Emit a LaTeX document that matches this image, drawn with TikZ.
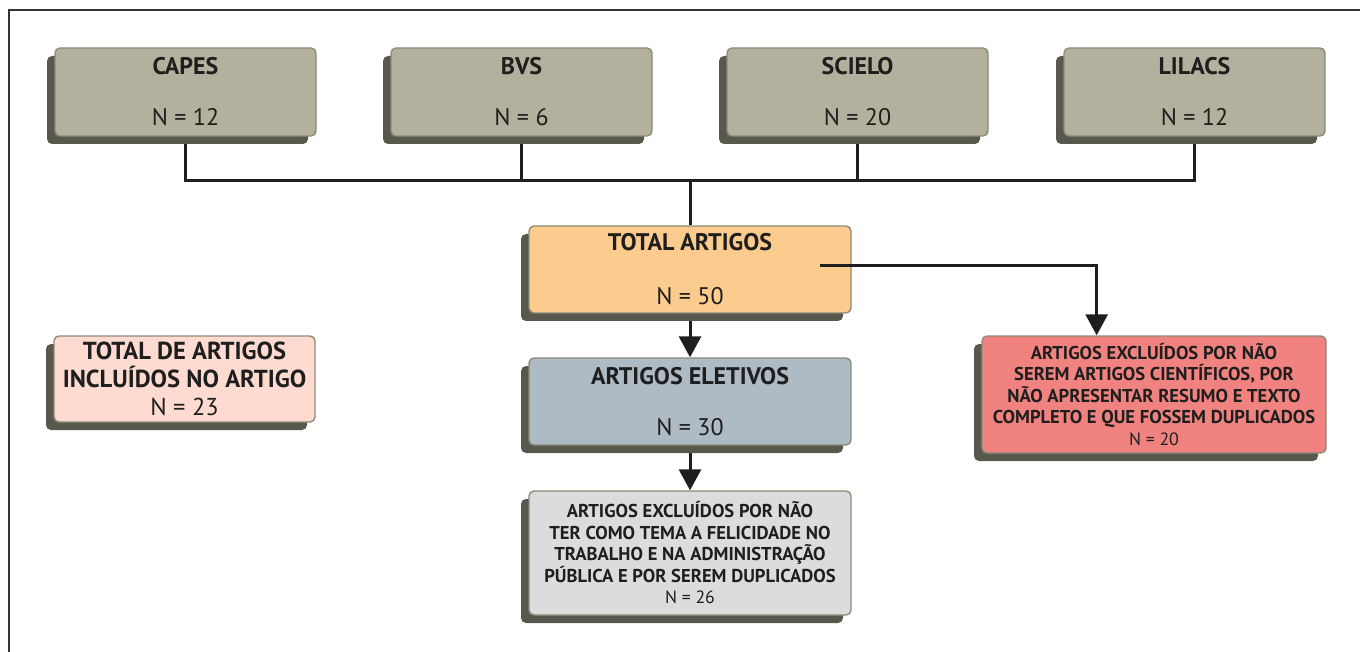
\documentclass[tikz,border=0pt]{standalone}
\usepackage{fontspec}
\setmainfont{PT Sans}
\usetikzlibrary{arrows.meta,shadows,backgrounds,calc}

\definecolor{khaki}{RGB}{179,177,157}
\definecolor{khakiline}{RGB}{140,138,120}
\definecolor{shade}{RGB}{88,88,76}
\definecolor{peach}{RGB}{252,203,142}
\definecolor{steel}{RGB}{174,186,196}
\definecolor{silver}{RGB}{220,220,220}
\definecolor{salmon}{RGB}{240,131,128}
\definecolor{blush}{RGB}{253,219,208}
\definecolor{ink}{RGB}{30,30,30}

\begin{document}
\begin{tikzpicture}[x=0.5pt,y=-0.5pt,
    box/.style={draw=khakiline,line width=0.7pt,rounded corners=2.5pt,
        general shadow={fill=shade,shadow xshift=-4pt,shadow yshift=-4pt},
        align=center,inner sep=0pt,text=ink},
    base/.style={box,fill=khaki,minimum width=130.5pt,minimum height=44pt,
        font=\fontsize{12}{13}\selectfont},
    stage/.style={box,minimum width=161pt,minimum height=43.5pt,
        font=\fontsize{12}{13}\selectfont},
    note/.style={box,font=\fontsize{9.3}{10.75}\selectfont\bfseries},
    link/.style={draw=ink,line width=1.5pt},
    tip/.style={link,-{Triangle[width=11pt,length=10.5pt]}}]
    \useasboundingbox (0,0) rectangle (1360,652);
    % frame
    \draw[ink!90,line width=1pt] (1360,10) -- (9,10) -- (9,652);
    % databases
    \node[base] (capes)  at (185.5,92)  {\textbf{CAPES}\\[12.5pt]N = 12};
    \node[base] (bvs)    at (521.5,92)  {\textbf{BVS}\\[12.5pt]N = 6};
    \node[base] (scielo) at (857.5,92)  {\textbf{SCIELO}\\[12.5pt]N = 20};
    \node[base] (lilacs) at (1194.5,92) {\textbf{LILACS}\\[12.5pt]N = 12};
    % stages
    \node[stage,fill=peach] (total)    at (690,269.5) {\textbf{TOTAL ARTIGOS}\\[14pt]N = 50};
    \node[stage,fill=steel] (eletivos) at (690,401.5) {\textbf{ARTIGOS ELETIVOS}\\[12.5pt]N = 30};
    \node[note,fill=silver,minimum width=161pt,minimum height=62pt] (semtema) at (690,553)
        {ARTIGOS EXCLUÍDOS POR NÃO\\TER COMO TEMA A FELICIDADE NO\\TRABALHO E NA ADMINISTRAÇÃO\\PÚBLICA E POR SEREM DUPLICADOS\\{\mdseries\fontsize{8.9}{10.75}\selectfont N = 26}};
    \node[note,fill=salmon,minimum width=172pt,minimum height=58.5pt] (naocient) at (1154,394.5)
        {ARTIGOS EXCLUÍDOS POR NÃO\\SEREM ARTIGOS CIENTÍFICOS, POR\\NÃO APRESENTAR RESUMO E TEXTO\\COMPLETO E QUE FOSSEM DUPLICADOS\\{\mdseries\fontsize{8.9}{10.75}\selectfont N = 20}};
    \node[box,fill=blush,minimum width=130.5pt,minimum height=43pt,
        font=\fontsize{12.3}{14}\selectfont\bfseries] (incluidos) at (184.5,379)
        {TOTAL DE ARTIGOS\\INCLUÍDOS NO ARTIGO\\{\mdseries\fontsize{12.2}{13}\selectfont N = 23}};
    % connectors
    \coordinate (hub) at (690,181);
    \coordinate (tap) at (820,266);
    \begin{pgfonlayer}{background}
        \draw[link] (capes.south) |- (lilacs.south |- hub) -- (lilacs.south);
        \draw[link] (bvs.south) -- (bvs.south |- hub);
        \draw[link] (scielo.south) -- (scielo.south |- hub);
        \draw[link] (hub) -- (total.north);
        \draw[tip] (total.south) -- (eletivos.north);
        \draw[tip] (eletivos.south) -- (semtema.north);
    \end{pgfonlayer}
    \draw[tip] (tap) -| ($(naocient.north west)!0.334!(naocient.north east)$);
\end{tikzpicture}
\end{document}
